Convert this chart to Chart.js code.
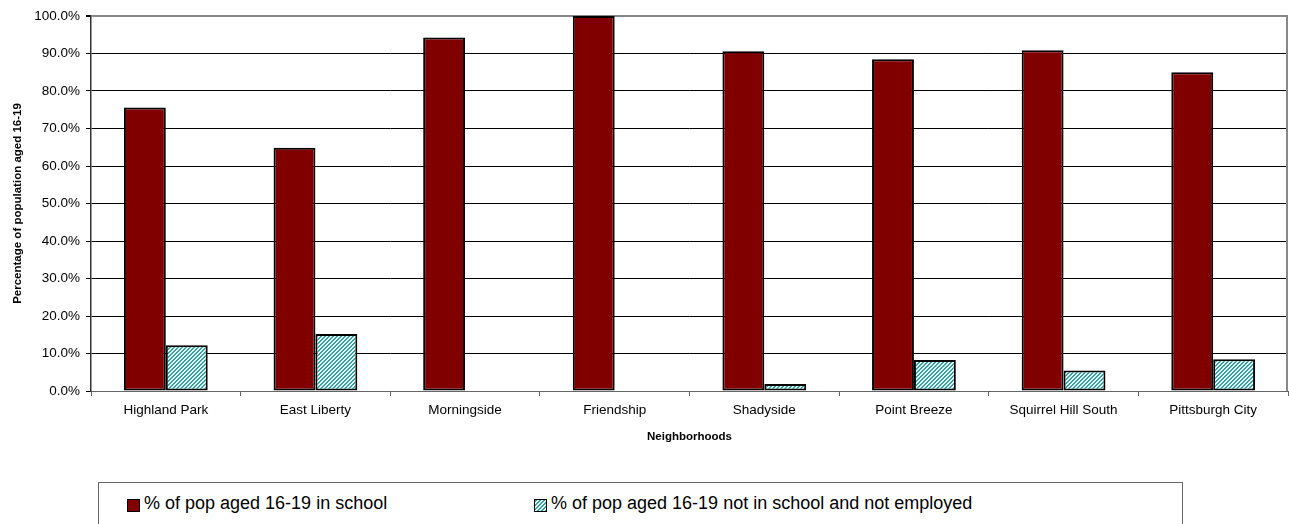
<!DOCTYPE html>
<html>
<head>
<meta charset="utf-8">
<script src="https://cdn.jsdelivr.net/npm/chart.js"></script>
<style>
  body { margin: 0; background: #fff; font-family: "Liberation Sans", Arial, sans-serif; }
  #wrap { position: relative; width: 1289px; height: 524px; overflow: hidden; }
  #legend {
    position: absolute; left: 98px; top: 482px; width: 1085px; height: 50px;
    border: 1px solid #666; box-sizing: border-box;
  }
  .item { position: absolute; top: 10px; display: flex; align-items: center; font-size: 18px; color: #000; }
  .swatch { width: 11px; height: 11px; border: 1.5px solid #000; margin-right: 4px; margin-top: 3px; }
</style>
</head>
<body>
<div id="wrap">
  <canvas id="myChart" width="1289" height="470"></canvas>
  <div id="legend"></div>
</div>
<script>
let categories = ['Highland Park', 'East Liberty', 'Morningside', 'Friendship', 'Shadyside', 'Point Breeze', 'Squirrel Hill South', 'Pittsburgh City']
let inSchool = [75.6, 64.9, 94.3, 100, 90.6, 88.5, 90.9, 85.0]
let notInSchool = [12.2, 15.2, 0, 0, 1.9, 8.3, 5.5, 8.5]
let seriesNames = ['% of pop aged 16-19 in school', '% of pop aged 16-19 not in school and not employed']

// hatch fill for the second series
let hatch = document.createElement('canvas')
hatch.width = 4
hatch.height = 4
let hctx = hatch.getContext('2d')
for (let x = 0; x < 4; x++) {
  for (let y = 0; y < 4; y++) {
    hctx.fillStyle = (x + y) % 4 < 2 ? '#33a3a3' : '#eaf8f8'
    hctx.fillRect(x, y, 1, 1)
  }
}
let ctx = document.getElementById('myChart').getContext('2d')
let hatchFill = ctx.createPattern(hatch, 'repeat')

let rightBorder = {
  id: 'rightBorder',
  afterDraw(chart) {
    let a = chart.chartArea
    let c = chart.ctx
    c.save()
    c.strokeStyle = '#888'
    c.lineWidth = 2
    c.beginPath()
    c.moveTo(a.right - 1, a.top - 1)
    c.lineTo(a.right - 1, a.bottom)
    c.stroke()
    c.restore()
  },
}

let chart = new Chart(ctx, {
  type: 'bar',
  data: {
    labels: categories,
    datasets: [
      {
        label: seriesNames[0],
        data: inSchool,
        backgroundColor: '#800000',
        borderColor: '#000',
        borderWidth: 2,
        borderSkipped: false,
      },
      {
        label: seriesNames[1],
        data: notInSchool,
        backgroundColor: hatchFill,
        borderColor: '#000',
        borderWidth: 2,
        borderSkipped: false,
      },
    ],
  },
  options: {
    responsive: false,
    animation: false,
    categoryPercentage: 0.56,
    barPercentage: 1.0,
    layout: { padding: { top: 16, right: 1, left: 0, bottom: 0 } },
    plugins: {
      legend: { display: false },
      tooltip: { enabled: false },
    },
    scales: {
      x: {
        grid: { drawOnChartArea: false, drawTicks: true, tickLength: 5, color: '#666', offset: true },
        border: { color: '#666', width: 1 },
        ticks: { color: '#000', font: { family: 'Liberation Sans', size: 13.5 }, padding: 6, maxRotation: 0 },
        title: {
          display: true,
          text: 'Neighborhoods',
          color: '#000',
          font: { family: 'Liberation Sans', size: 11.5, weight: 'bold' },
          padding: { top: 0, bottom: 26 },
        },
        afterFit(scale) { scale.height = 79 },
      },
      y: {
        min: 0,
        max: 100,
        ticks: {
          stepSize: 10,
          color: '#000',
          padding: 6,
          font: { family: 'Liberation Sans', size: 13.5 },
          callback: (v) => v.toFixed(1) + '%',
        },
        grid: {
          color: (c) => (c.tick && c.tick.value === 100 ? '#888' : '#000'),
          lineWidth: (c) => (c.tick && c.tick.value === 100 ? 2 : 1),
          tickLength: 5,
          tickColor: '#000',
        },
        border: { color: '#333', width: 1.5 },
        title: {
          display: true,
          text: 'Percentage of population aged 16-19',
          color: '#000',
          font: { family: 'Liberation Sans', size: 11.5, weight: 'bold' },
          padding: { top: 11, bottom: 0 },
        },
        afterFit(scale) { scale.width = 91 },
      },
    },
  },
  plugins: [rightBorder],
})

// html legend built from the datasets
let legend = document.getElementById('legend')
let itemLeft = [28, 435]
chart.data.datasets.forEach((ds, i) => {
  let item = document.createElement('div')
  item.className = 'item'
  item.style.left = itemLeft[i] + 'px'
  let sw = document.createElement('span')
  sw.className = 'swatch'
  if (i === 0) sw.style.background = ds.backgroundColor
  else sw.style.backgroundImage = 'url(' + hatch.toDataURL() + ')'
  let txt = document.createElement('span')
  txt.textContent = ds.label
  item.appendChild(sw)
  item.appendChild(txt)
  legend.appendChild(item)
})
</script>
</body>
</html>
